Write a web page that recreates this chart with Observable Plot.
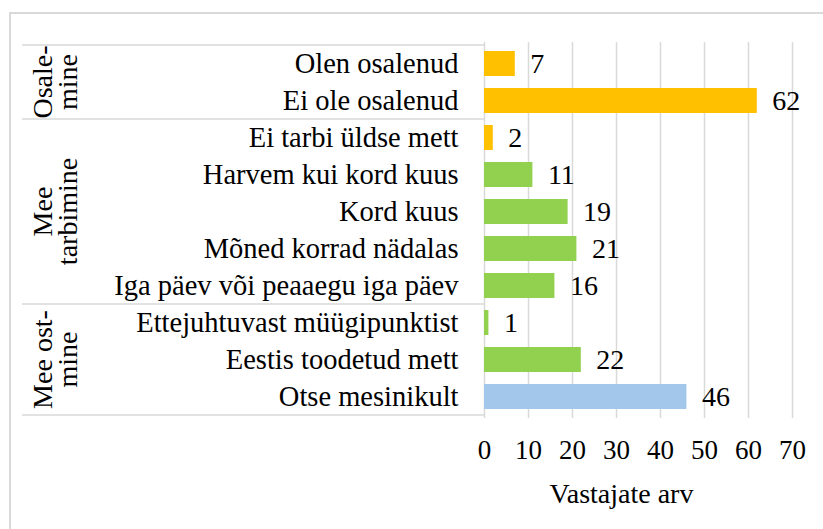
<!DOCTYPE html>
<html>
<head>
<meta charset="utf-8">
<script src="https://cdn.jsdelivr.net/npm/d3@7"></script>
<script src="https://cdn.jsdelivr.net/npm/@observablehq/plot@0.6"></script>
<style>
  html, body { margin: 0; padding: 0; background: #fff; }
  #chart svg { display: block; }
</style>
</head>
<body>
<div id="chart"></div>
<script>
const categories = [
  "Olen osalenud",
  "Ei ole osalenud",
  "Ei tarbi üldse mett",
  "Harvem kui kord kuus",
  "Kord kuus",
  "Mõned korrad nädalas",
  "Iga päev või peaaegu iga päev",
  "Ettejuhtuvast müügipunktist",
  "Eestis toodetud mett",
  "Otse mesinikult"
];
const values = [7, 62, 2, 11, 19, 21, 16, 1, 22, 46];
const groupOf = [0, 0, 1, 1, 1, 1, 1, 2, 2, 2];
const groupLabels = [["Osale-", "mine"], ["Mee", "tarbimine"], ["Mee ost-", "mine"]];
const colorKeys = ["orange", "orange", "orange", "green", "green", "green", "green", "green", "green", "blue"];
const palette = { orange: "#FFC000", green: "#92D050", blue: "#A3C7EA" };
const xTicks = [0, 10, 20, 30, 40, 50, 60, 70];
const xLabel = "Vastajate arv";

const data = categories.map((c, i) => ({
  category: c, value: values[i], group: groupOf[i], color: palette[colorKeys[i]]
}));

const FONT = "'Liberation Serif', 'Times New Roman', serif";
const grey = "#d9d9d9";

const chart = Plot.plot({
  width: 823,
  height: 529,
  marginLeft: 484,
  marginRight: 31,
  marginTop: 42,
  marginBottom: 111,
  style: { fontFamily: FONT, fontSize: "28px", color: "#000", background: "#fff", overflow: "visible" },
  x: { domain: [0, 70] },
  y: { domain: categories, paddingInner: 0.335, paddingOuter: 0.1675 },
  color: { type: "identity" },
  marks: [
    Plot.gridX(xTicks, { stroke: grey, strokeOpacity: 1, strokeWidth: 1.5 }),
    Plot.barX(data, { x: "value", y: "category", fill: "color" }),
    Plot.text(data, {
      x: "value", y: "category", text: d => String(d.value),
      textAnchor: "start", dx: 15, fontSize: 28, fill: "#000"
    }),
    Plot.axisX({ ticks: xTicks, tickSize: 0, tickPadding: 21, fontSize: 27, label: null }),
    Plot.axisY({ tickSize: 0, tickPadding: 26, fontSize: 28.5, label: null }),
    Plot.text([xLabel], { frameAnchor: "bottom", dy: 84, dx: -17, fontSize: 28, fill: "#000" })
  ]
});

document.getElementById("chart").appendChild(chart);

// decorations using Plot's own y scale
const svg = d3.select(chart);
const ys = chart.scale("y");
const gap = (ys.step - ys.bandwidth) / 2;
const bandTop = c => ys.apply(c) - gap;
const bandBottom = c => ys.apply(c) + ys.bandwidth + gap;

const deco = svg.insert("g", ":first-child");
// outer border (left and top)
deco.append("path")
  .attr("d", "M10,529V13H823")
  .attr("fill", "none").attr("stroke", grey).attr("stroke-width", 2);

// group separators and labels
const groupsIdx = d3.groups(data, d => d.group);
const xLeft = 22, xRight = chart.scale("x").apply(0);
const boundaries = new Set();
groupsIdx.forEach(([g, rows]) => {
  const y0 = bandTop(rows[0].category);
  const y1 = bandBottom(rows[rows.length - 1].category);
  boundaries.add(y0); boundaries.add(y1);
  const yc = (y0 + y1) / 2;
  const t = svg.append("text")
    .attr("transform", `translate(52,${yc}) rotate(-90)`)
    .attr("text-anchor", "middle")
    .attr("font-family", FONT)
    .attr("font-size", 28)
    .attr("fill", "#000");
  groupLabels[g].forEach((line, i) => {
    t.append("tspan").attr("x", 0).attr("y", i * 25).text(line);
  });
});
boundaries.forEach(y => {
  deco.append("line")
    .attr("x1", xLeft).attr("x2", xRight)
    .attr("y1", y).attr("y2", y)
    .attr("stroke", grey).attr("stroke-width", 1.5);
});
</script>
</body>
</html>
